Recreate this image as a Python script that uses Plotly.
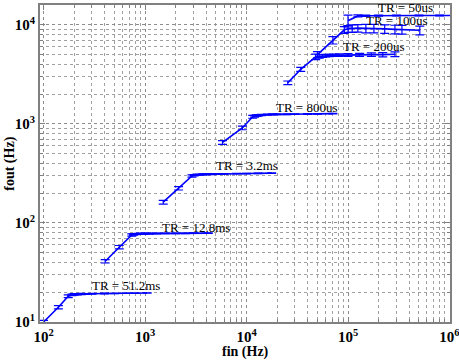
import plotly.graph_objects as go

# ---- data (fin in Hz, fout in Hz, error half-widths in Hz) ----
fin_51_2ms = [100, 140, 175, 190, 200, 215, 235, 260, 300, 400, 500, 650, 800, 1050]
fout_51_2ms = [10, 14.1, 18.2, 18.8, 19.0, 19.1, 19.2, 19.2, 19.3, 19.4, 19.4, 19.5, 19.5, 19.6]
err_51_2ms = [0.4, 0.55, 0.6, 0.3, 0.3, 0.3, 0.3, 0.2, 0.2, 0.2, 0.1, 0.1, 0.1, 0.1]

fin_12_8ms = [405, 557, 740, 770, 800, 850, 900, 1000, 1100, 1300, 1600, 2000, 2500, 3000, 4200]
fout_12_8ms = [41, 57, 75.5, 76.5, 77, 77.5, 77.8, 78, 78, 78.2, 78.4, 78.5, 78.6, 78.7, 79]
err_12_8ms = [1.6, 2.2, 2.0, 1.0, 1.0, 1.0, 1.0, 0.8, 0.8, 0.6, 0.6, 0.5, 0.5, 0.5, 0.4]

fin_3_2ms = [1510, 2140, 2900, 3050, 3200, 3400, 3700, 4000, 4500, 5000, 6000, 8000, 10000, 13000, 17700]
fout_3_2ms = [162, 224, 298, 303, 306, 308, 309, 310, 311, 312, 313, 314, 315, 316, 318]
err_3_2ms = [7, 9, 8, 4, 4, 4, 4, 3, 3, 3, 2, 2, 2, 2, 2]

fin_800us = [5800, 9100, 11500, 12000, 12500, 13000, 14000, 16000, 18000, 20000, 25000, 30000, 40000, 50000, 71000]
fout_800us = [650, 910, 1180, 1195, 1210, 1220, 1230, 1240, 1245, 1250, 1252, 1255, 1258, 1262, 1268]
err_800us = [28, 38, 40, 25, 20, 20, 18, 15, 15, 12, 12, 10, 10, 8, 8]

fin_200us = [25500, 34200, 48000, 52000, 56000, 60000, 65000, 72000, 82000, 100000, 130000, 170000, 220000, 290000]
fout_200us = [2600, 3550, 4750, 4800, 4850, 4880, 4900, 4920, 4940, 4960, 4980, 5000, 5000, 5050]
err_200us = [110, 160, 300, 200, 150, 150, 130, 130, 150, 150, 180, 200, 250, 280]

fin_100us = [50000, 71000, 92000, 100000, 110000, 125000, 150000, 180000, 230000, 290000, 340000, 510000]
fout_100us = [5000, 7000, 8900, 9100, 9200, 9250, 9200, 9200, 9100, 9000, 8950, 8800]
err_100us = [350, 600, 700, 700, 800, 800, 900, 900, 900, 900, 900, 900]

fin_50us = [100000, 125000, 150000, 200000, 300000, 500000, 800000, 1200000]
fout_50us = [11000, 12300, 12350, 12400, 12400, 12400, 12400, 12400]
err_50us = [1500, 300, 200, 150, 100, 100, 100, 100]

labels = ["TR = 51.2ms", "TR = 12.8ms", "TR = 3.2ms", "TR = 800us",
          "TR = 200us", "TR = 100us", "TR = 50us"]
# label anchor positions (log10 fin, log10 fout)
label_x = [2.815, 3.506, 4.0, 4.593, 5.255, 5.483, 5.562]
label_y = [1.364, 1.95, 2.576, 3.17, 3.778, 4.04, 4.17]

series = [
    (fin_51_2ms, fout_51_2ms, err_51_2ms),
    (fin_12_8ms, fout_12_8ms, err_12_8ms),
    (fin_3_2ms, fout_3_2ms, err_3_2ms),
    (fin_800us, fout_800us, err_800us),
    (fin_200us, fout_200us, err_200us),
    (fin_100us, fout_100us, err_100us),
    (fin_50us, fout_50us, err_50us),
]

BLUE = "#0000ff"
FONT = "Liberation Serif, Times New Roman, serif"

fig = go.Figure()
for (xs, ys, es), name in zip(series, labels):
    fig.add_trace(go.Scatter(
        x=xs, y=ys, mode="lines", name=name,
        line=dict(color=BLUE, width=1.6),
        error_y=dict(type="data", array=es, visible=True,
                     color=BLUE, thickness=1.2, width=4.5),
        showlegend=False,
    ))

for txt, lx, ly in zip(labels, label_x, label_y):
    fig.add_annotation(x=lx, y=ly, xref="x", yref="y", text=txt,
                       showarrow=False, xanchor="center", yanchor="middle",
                       font=dict(family=FONT, size=13, color="black"))

# axis titles
fig.add_annotation(x=0.5, y=-0.095, xref="paper", yref="paper", text="<b>fin (Hz)</b>",
                   showarrow=False, xanchor="center", yanchor="middle",
                   font=dict(family=FONT, size=14, color="black"))
fig.add_annotation(x=-0.075, y=0.5, xref="paper", yref="paper", text="<b>fout (Hz)</b>",
                   showarrow=False, xanchor="center", yanchor="middle", textangle=-90,
                   font=dict(family=FONT, size=14, color="black"))

xt = [100, 1000, 10000, 100000, 1000000]
xtt = ["<b>10<sup>2</sup></b>", "<b>10<sup>3</sup></b>", "<b>10<sup>4</sup></b>",
       "<b>10<sup>5</sup></b>", "<b>10<sup>6</sup></b>"]
yt = [10, 100, 1000, 10000]
ytt = ["<b>10<sup>1</sup></b>", "<b>10<sup>2</sup></b>", "<b>10<sup>3</sup></b>",
       "<b>10<sup>4</sup></b>"]

axis_common = dict(
    type="log", showline=True, linecolor="#808080", linewidth=2, mirror="allticks",
    ticks="inside", ticklen=5, tickcolor="#808080", zeroline=False, automargin=False,
    ticklabeloverflow="allow",
    showgrid=True, gridcolor="#8c8c8c", griddash="dot", gridwidth=1,
    tickfont=dict(family=FONT, size=15, color="black"),
    minor=dict(dtick="D1", ticks="inside", ticklen=3, tickcolor="#808080",
               showgrid=True, gridcolor="#a0a0a0", griddash="dot", gridwidth=1),
)

fig.update_xaxes(range=[1.965, 6.005], tickvals=xt, ticktext=xtt, **axis_common)
fig.update_yaxes(range=[1.0, 4.2], tickvals=yt, ticktext=ytt, **axis_common)

fig.update_layout(
    width=459, height=364,
    margin=dict(l=40, r=9, t=5, b=42),
    paper_bgcolor="white", plot_bgcolor="white",
    font=dict(family=FONT, color="black"),
)

fig.write_html("out.html", config={"displayModeBar": False},
               post_script="document.body.style.margin='0';")
